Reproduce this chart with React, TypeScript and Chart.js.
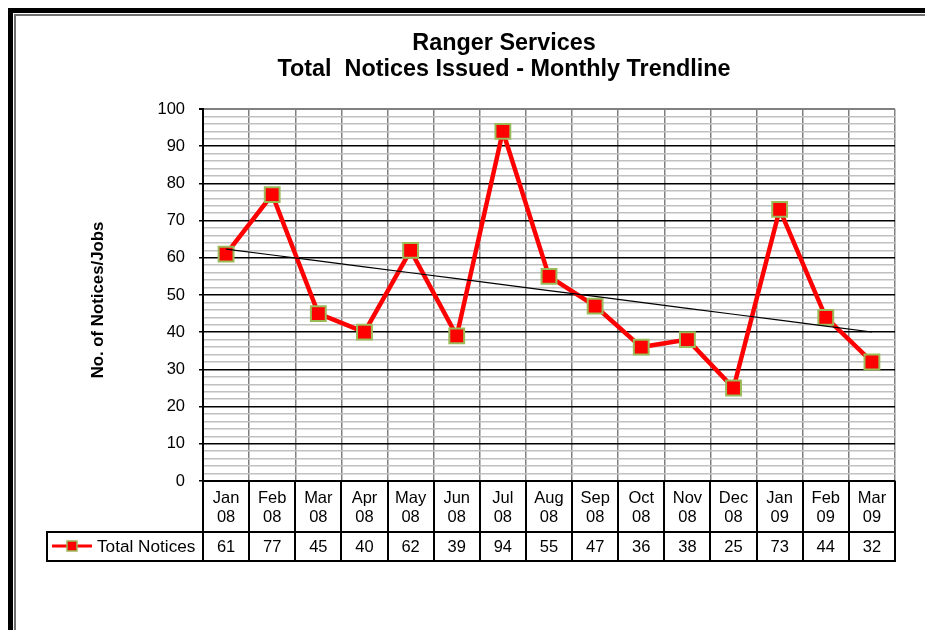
import React, { useEffect, useRef } from "react";
import { Chart, registerables } from "chart.js";

Chart.register(...registerables);

const titleLines = ["Ranger Services", "Total  Notices Issued - Monthly Trendline"];
const yAxisTitle = "No. of Notices/Jobs";
const seriesName = "Total Notices";
const months = ["Jan", "Feb", "Mar", "Apr", "May", "Jun", "Jul", "Aug", "Sep", "Oct", "Nov", "Dec", "Jan", "Feb", "Mar"];
const years = ["08", "08", "08", "08", "08", "08", "08", "08", "08", "08", "08", "08", "09", "09", "09"];
const values = [61, 77, 45, 40, 62, 39, 94, 55, 47, 36, 38, 25, 73, 44, 32];
const yMin = 0;
const yMax = 100;
const yMajorStep = 10;
const yMinorStep = 2;

const FONT = '"Liberation Sans", Arial, Helvetica, sans-serif';
const CW = 960;
const CH = 660;

// linear least-squares trendline derived from the series (as Excel does)
function linearTrend(v: number[]): number[] {
  const n = v.length;
  const xs = v.map((_, i) => i + 1);
  const mx = xs.reduce((a, b) => a + b, 0) / n;
  const my = v.reduce((a, b) => a + b, 0) / n;
  let sxy = 0;
  let sxx = 0;
  for (let i = 0; i < n; i++) {
    sxy += (xs[i] - mx) * (v[i] - my);
    sxx += (xs[i] - mx) * (xs[i] - mx);
  }
  const slope = sxy / sxx;
  return xs.map((x) => my + slope * (x - mx));
}

const decorPlugin = {
  id: "excelDecor",
  beforeDraw(chart: any) {
    const { ctx } = chart;
    const W = chart.width;
    const H = chart.height;
    ctx.save();
    ctx.fillStyle = "#ffffff";
    ctx.fillRect(0, 0, W, H);
    // frame
    ctx.fillStyle = "#000000";
    ctx.fillRect(0, 0, W, 5);
    ctx.fillRect(0, 0, 5, H);
    ctx.fillStyle = "#707070";
    ctx.fillRect(6, 6, W, 2);
    ctx.fillRect(6, 6, 2, H);
    ctx.restore();
  },
  afterDraw(chart: any) {
    const { ctx, chartArea: ca } = chart;
    const n = months.length;
    const colW = (ca.right - ca.left) / n;
    ctx.save();

    // title
    ctx.fillStyle = "#000";
    ctx.textAlign = "center";
    ctx.textBaseline = "middle";
    ctx.font = `bold 23.4px ${FONT}`;
    ctx.fillText(titleLines[0], 496, 36);
    ctx.fillText(titleLines[1], 496, 62);

    // y axis title
    ctx.save();
    ctx.translate(90, 292);
    ctx.rotate(-Math.PI / 2);
    ctx.font = `bold 16.8px ${FONT}`;
    ctx.fillText(yAxisTitle, 0, 0);
    ctx.restore();

    // data table
    const top = ca.bottom;
    const mid = Math.round(ca.bottom + 51);
    const bot = Math.round(ca.bottom + 80);
    const legLeft = 39;
    ctx.strokeStyle = "#000";
    ctx.lineWidth = 2;
    ctx.beginPath();
    for (let i = 0; i <= n; i++) {
      const x = Math.round(ca.left + i * colW);
      ctx.moveTo(x, top);
      ctx.lineTo(x, bot);
    }
    ctx.moveTo(legLeft, mid);
    ctx.lineTo(ca.right, mid);
    ctx.moveTo(legLeft, bot);
    ctx.lineTo(ca.right + 1, bot);
    ctx.moveTo(legLeft, mid - 1);
    ctx.lineTo(legLeft, bot + 1);
    ctx.stroke();

    ctx.font = `16.5px ${FONT}`;
    ctx.fillStyle = "#000";
    const xs = chart.scales.x;
    for (let i = 0; i < n; i++) {
      const cx = xs.getPixelForValue(i);
      ctx.fillText(months[i], cx, top + 17);
      ctx.fillText(years[i], cx, top + 36);
      ctx.fillText(String(values[i]), cx, top + 66);
    }

    // legend key
    const ly = top + 65;
    ctx.strokeStyle = "#ff0000";
    ctx.lineWidth = 3;
    ctx.beginPath();
    ctx.moveTo(44, ly);
    ctx.lineTo(84, ly);
    ctx.stroke();
    ctx.fillStyle = "#ff0000";
    ctx.fillRect(59, ly - 5, 10, 10);
    ctx.strokeStyle = "#9bbb59";
    ctx.lineWidth = 1.5;
    ctx.strokeRect(59, ly - 5, 10, 10);
    ctx.fillStyle = "#000";
    ctx.textAlign = "left";
    ctx.font = `17.2px ${FONT}`;
    ctx.fillText(seriesName, 89, top + 66);

    ctx.restore();
  },
};

export default function App() {
  const ref = useRef<HTMLCanvasElement>(null);

  useEffect(() => {
    document.documentElement.style.overflow = "hidden";
    document.body.style.overflow = "hidden";
    const canvas = ref.current;
    if (!canvas) return;
    const trend = linearTrend(values);
    const chart = new Chart(canvas, {
      type: "line",
      data: {
        labels: months.map((m, i) => [m, years[i]]),
        datasets: [
          {
            label: "Linear trend",
            data: trend,
            borderColor: "#000000",
            borderWidth: 1.2,
            pointRadius: 0,
            tension: 0,
            fill: false,
          },
          {
            label: seriesName,
            data: values,
            borderColor: "#ff0000",
            borderWidth: 4.5,
            pointStyle: "rect",
            pointRadius: 10.5,
            pointBackgroundColor: "#ff0000",
            pointBorderColor: "#9bbb59",
            pointBorderWidth: 2,
            tension: 0,
            fill: false,
          },
        ],
      },
      options: {
        responsive: false,
        animation: false,
        devicePixelRatio: 1,
        layout: { padding: { top: 101, right: CW - 887, bottom: 0, left: 0 } },
        plugins: {
          legend: { display: false },
          title: { display: false },
          tooltip: { enabled: false },
        },
        scales: {
          x: {
            type: "category",
            offset: true,
            grid: {
              offset: true,
              color: "#808080",
              lineWidth: 1.5,
              drawTicks: false,
            },
            border: { color: "#000000", width: 2 },
            ticks: { display: false },
            afterFit: (s: any) => {
              s.height = CH - 473;
            },
          },
          y: {
            min: yMin,
            max: yMax,
            grid: {
              color: (c: any) => {
                const v = c.tick ? c.tick.value : 0;
                if (v === yMax) return "#808080";
                return v % yMajorStep === 0 ? "#000000" : "#c0c0c0";
              },
              lineWidth: (c: any) => {
                const v = c.tick ? c.tick.value : 0;
                if (v === yMax) return 2;
                return 1.5;
              },
              tickColor: (c: any) => {
                const v = c.tick ? c.tick.value : 0;
                return v % yMajorStep === 0 ? "#000000" : "rgba(0,0,0,0)";
              },
              tickLength: 4,
            },
            border: { color: "#000000", width: 2 },
            ticks: {
              stepSize: yMinorStep,
              autoSkip: false,
              padding: 14,
              color: "#000000",
              font: { family: FONT, size: 16.5 },
              callback: (v: any) => (Number(v) % yMajorStep === 0 ? String(v) : ""),
            },
            afterFit: (s: any) => {
              s.width = 195;
            },
          },
        },
      },
      plugins: [decorPlugin],
    });
    return () => chart.destroy();
  }, []);

  return (
    <div style={{ position: "fixed", left: 8, top: 8, right: 0, bottom: 0, overflow: "hidden" }}>
      <canvas ref={ref} width={CW} height={CH} style={{ display: "block", width: CW, height: CH }} />
    </div>
  );
}
